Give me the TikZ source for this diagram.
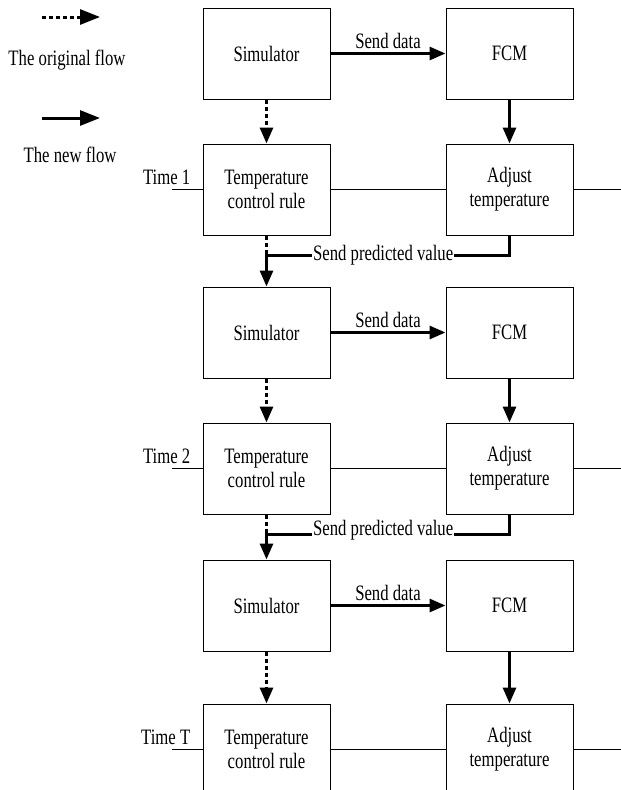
\documentclass[tikz,border=0pt]{standalone}
\usepackage{fontspec}
\setmainfont{Liberation Serif}[FakeStretch=0.76]
\usetikzlibrary{calc,arrows.meta,positioning}
\tikzset{
    every node/.style={font=\fontsize{22}{24}\selectfont},
    box node/.style={draw,line width=1pt,minimum width=127pt,minimum height=91pt,align=center,inner sep=0pt},
    new flow/.style={line width=3pt,-{Triangle[length=16pt,width=13pt]}},
    old flow/.style={new flow,dash pattern=on 4pt off 3pt},
    time line/.style={-,line width=0.8pt}
}

\begin{document}
\begin{tikzpicture}[x=1pt,y=1pt]
    \useasboundingbox (0,0) rectangle (621,-790);
    \clip (0,0) rectangle (621,-790);

        % legend
        \coordinate (lo1) at (42,-17);
        \coordinate (lo2) at (100,-17);
        \coordinate (ln1) at (42,-118);
        \coordinate (ln2) at (100,-118);
        \draw[old flow,-{Triangle[length=20pt,width=15pt]}] (lo1) -- (lo2);
        \draw[new flow,-{Triangle[length=20pt,width=15pt]}] (ln1) -- (ln2);
        \node (orig) at (67,-60) {The original flow};
        \node (new) at (70,-155) {The new flow};

        % time 1
        \node[box node] (sim1) at (266.5,-53.5) {Simulator};
        \node[box node] (fcm1) [right =115pt of sim1] {FCM};
        \node[box node] (temp1) [below =44pt of sim1] {Temperature\\control rule};
        \node[box node] (adj1) [right =115pt of temp1] {Adjust\\temperature};

        % time 2
        \node[box node] (sim2) [below =51pt of temp1] {Simulator};
        \node[box node] (fcm2) [right =115pt of sim2] {FCM};
        \node[box node] (temp2) [below =44pt of sim2] {Temperature\\control rule};
        \node[box node] (adj2) [right =115pt of temp2] {Adjust\\temperature};

        % time T
        \node[box node] (sim3) [below =45pt of temp2] {Simulator};
        \node[box node] (fcm3) [right =115pt of sim3] {FCM};
        \node[box node] (temp3) [below =52pt of sim3] {Temperature\\control rule};
        \node[box node] (adj3) [right =115pt of temp3] {Adjust\\temperature};

        % time lines
        \node[anchor=base east,inner sep=0pt] (time1) at ([xshift=-12pt,yshift=5pt]temp1.west) {Time 1};
        \node[anchor=base east,inner sep=0pt] (time2) at ([xshift=-12pt,yshift=5pt]temp2.west) {Time 2};
        \node[anchor=base east,inner sep=0pt] (time3) at ([xshift=-12pt,yshift=5pt]temp3.west) {Time T};
        \draw[time line] (temp1.west) -- ++(-31,0);
        \draw[time line] (temp1.east) -- (adj1.west);
        \draw[time line] (adj1.east) -- ++(50,0);
        \draw[time line] (temp2.west) -- ++(-31,0);
        \draw[time line] (temp2.east) -- (adj2.west);
        \draw[time line] (adj2.east) -- ++(50,0);
        \draw[time line] (temp3.west) -- ++(-31,0);
        \draw[time line] (temp3.east) -- (adj3.west);
        \draw[time line] (adj3.east) -- ++(50,0);

        % flows
        \draw[new flow] (sim1) -- node[above] {Send data} (fcm1);
        \draw[new flow] (fcm1) -- (adj1);
        \draw[old flow] (sim1) -- (temp1);
        \draw[new flow] (adj1.south) -- ++(0,-20) coordinate (p1) -| node[pos=0.26,fill=white,inner sep=1pt] {Send predicted value} (sim2.north);
        \draw[old flow,-] (temp1.south) -- (temp1.south |- p1);

        \draw[new flow] (sim2) -- node[above] {Send data} (fcm2);
        \draw[new flow] (fcm2) -- (adj2);
        \draw[old flow] (sim2) -- (temp2);
        \draw[new flow] (adj2.south) -- ++(0,-20) coordinate (p2) -| node[pos=0.26,fill=white,inner sep=1pt,yshift=4pt] {Send predicted value} (sim3.north);
        \draw[old flow,-] (temp2.south) -- (temp2.south |- p2);

        \draw[new flow] (sim3) -- node[above] {Send data} (fcm3);
        \draw[new flow] (fcm3) -- (adj3);
        \draw[old flow] (sim3) -- (temp3);
      \end{tikzpicture}
\end{document}
